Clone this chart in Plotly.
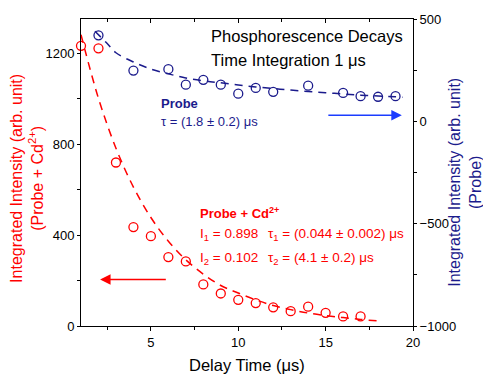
import plotly.graph_objects as go

# ---- data ----
red_x = [1, 2, 3, 4, 5, 6, 7, 8, 9, 10, 11, 12, 13, 14, 15, 16, 17]
red_y = [1232, 1221, 719, 435, 395, 303, 284, 183, 143, 115, 101, 82, 65, 85, 58, 42, 42]

blue_x = [2, 4, 6, 7, 8, 9, 10, 11, 12, 14, 16, 17, 18, 19]
blue_y = [420, 248, 255, 179, 203, 179, 135, 163, 144, 174, 139, 123, 120, 123]

red_fit_x = [1, 2, 3, 4, 5, 6, 7, 8, 9, 10, 11, 12, 13, 14, 15, 16, 17, 18]
red_fit_y = [1281, 1001, 782, 611, 477, 373, 291, 228, 178, 145, 115, 90, 72, 57, 46, 37, 29, 22]

blue_fit_x = [1.8, 2.5, 3, 4, 5, 6, 7, 8, 9, 10, 11, 12, 13, 14, 15, 16, 17, 18, 19, 19.4]
blue_fit_y = [440, 380, 335, 290, 255, 232, 212, 198, 188, 178, 168, 160, 153, 146, 140, 134, 128, 124, 120, 118]

x_range = [1, 20]
left_range = [0, 1350]
right_range = [-1000, 500]

RED = "#ff0000"
NAVY = "#1b1b8c"
BLUE = "#1b3cff"
FONT = "Liberation Sans, Arial, sans-serif"

fig = go.Figure()

fig.add_trace(go.Scatter(x=red_fit_x, y=red_fit_y, mode="lines", line=dict(color=RED, width=1.5, dash="8px,6px", shape="spline"),
                         xaxis="x", yaxis="y", showlegend=False, hoverinfo="skip"))
fig.add_trace(go.Scatter(x=red_x, y=red_y, mode="markers",
                         marker=dict(symbol="circle-open", size=9, color=RED, line=dict(width=1.3, color=RED)),
                         xaxis="x", yaxis="y", showlegend=False, cliponaxis=False))
fig.add_trace(go.Scatter(x=blue_fit_x, y=blue_fit_y, mode="lines", line=dict(color=NAVY, width=1.5, dash="8px,6px", shape="spline"),
                         xaxis="x", yaxis="y2", showlegend=False, hoverinfo="skip"))
fig.add_trace(go.Scatter(x=blue_x, y=blue_y, mode="markers",
                         marker=dict(symbol="circle-open", size=9, color=NAVY, line=dict(width=1.3, color=NAVY)),
                         xaxis="x", yaxis="y2", showlegend=False))
# invisible trace to anchor the top axis
fig.add_trace(go.Scatter(x=x_range, y=left_range, mode="markers", marker=dict(opacity=0),
                         xaxis="x2", yaxis="y", showlegend=False, hoverinfo="skip"))

tickfont = dict(family=FONT, size=13, color="black")

fig.update_layout(
    width=483, height=381,
    margin=dict(l=81, r=70, t=13, b=55),
    paper_bgcolor="white", plot_bgcolor="white",
    font=dict(family=FONT),
    xaxis=dict(range=x_range, tick0=0, dtick=5, ticks="outside", ticklen=4, tickwidth=1, tickcolor="black",
               minor=dict(dtick=2.5, tick0=0, ticks="outside", ticklen=3, tickcolor="black"),
               showline=True, linecolor="black", linewidth=1, showgrid=False, zeroline=False,
               tickfont=tickfont),
    xaxis2=dict(range=x_range, overlaying="x", side="top", anchor="y", tick0=0, dtick=5, ticks="inside", ticklen=4,
                minor=dict(dtick=2.5, tick0=0, ticks="inside", ticklen=3, tickcolor="black"),
                tickcolor="black", showticklabels=False, showline=True, linecolor="black", linewidth=1,
                showgrid=False, zeroline=False),
    yaxis=dict(range=left_range, tick0=0, dtick=400, ticks="outside", ticklen=3, tickcolor="black",
               minor=dict(dtick=200, tick0=0, ticks="outside", ticklen=3, tickcolor="black"),
               showline=True, linecolor="black", linewidth=1, showgrid=False, zeroline=False,
               tickfont=tickfont),
    yaxis2=dict(range=right_range, overlaying="y", side="right", anchor="x", tick0=0, dtick=500, ticks="outside",
                ticklen=3, tickcolor="black",
                minor=dict(dtick=250, tick0=0, ticks="outside", ticklen=3, tickcolor="black"),
                showline=True, linecolor="black", linewidth=1, showgrid=False, zeroline=False,
                tickfont=tickfont),
)

def px2paper(px, py):
    return (px - 81) / 332.0, (326 - py) / 313.0

annots = []
def text(s, px, py, color="black", size=13, anchor="left", angle=0):
    x, y = px2paper(px, py)
    annots.append(dict(text=s, x=x, y=y, xref="paper", yref="paper", xanchor=anchor, yanchor="middle",
                       showarrow=False, textangle=angle, font=dict(family=FONT, size=size, color=color)))

text("Phosphorescence Decays", 209, 30, size=16.5)
text("Time Integration 1 μs", 209, 54.5, size=16.5)
text("<b>Probe</b>", 158.5, 99, color=NAVY, size=13)
text("τ = (1.8 ± 0.2) μs", 158.5, 118, color=NAVY, size=13)
text("<b>Probe + Cd<sup>2+</sup></b>", 198, 211, color=RED, size=13)
text("I<sub>1</sub> = 0.898", 198, 233, color=RED, size=13.5)
text("τ<sub>1</sub> = (0.044 ± 0.002) μs", 265.5, 233, color=RED, size=13.5)
text("I<sub>2</sub> = 0.102", 198, 257, color=RED, size=13.5)
text("τ<sub>2</sub> = (4.1 ± 0.2) μs", 265.5, 257, color=RED, size=13.5)
text("Delay Time (μs)", 246.5, 366, size=16.5, anchor="center")
text("Integrated Intensity (arb. unit)<br>(Probe + Cd<sup>2+</sup>)", 27, 176, color=RED, size=16, anchor="center", angle=-90)
text("Integrated Intensity (arb. unit)<br>(Probe)", 465, 180, color=NAVY, size=16, anchor="center", angle=-90)

# arrows
annots.append(dict(x=2.09, y=205, xref="x", yref="y", ax=5.94, ay=205, axref="x", ayref="y", text="",
                   showarrow=True, arrowhead=2, arrowsize=1.4, arrowwidth=1.5, arrowcolor=RED))
annots.append(dict(x=19.36, y=30, xref="x", yref="y2", ax=15.07, ay=30, axref="x", ayref="y2", text="",
                   showarrow=True, arrowhead=2, arrowsize=1.4, arrowwidth=1.5, arrowcolor=BLUE))

fig.update_layout(annotations=annots)
fig.write_html("out.html")
